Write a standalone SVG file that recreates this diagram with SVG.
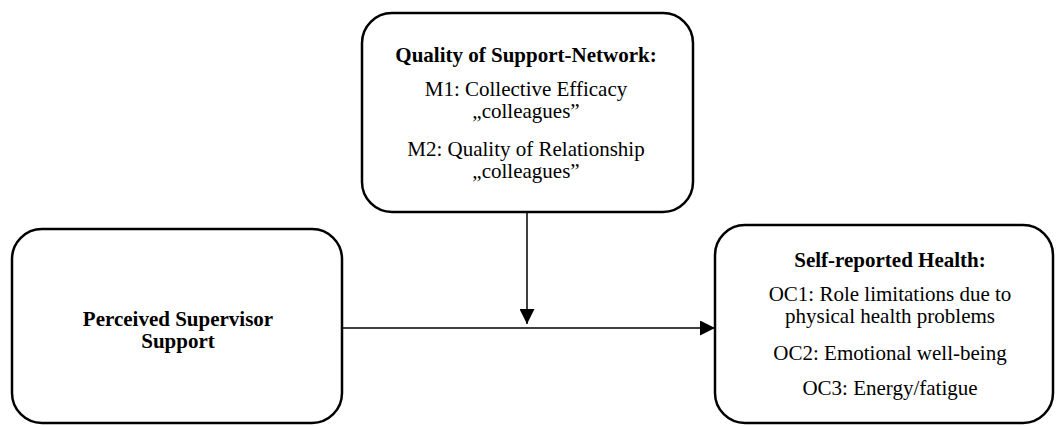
<svg xmlns="http://www.w3.org/2000/svg" width="1057" height="426" viewBox="0 0 1057 426">
  <defs>
    <marker id="arrow" viewBox="0 0 10 10" refX="10" refY="5" markerWidth="16" markerHeight="15" markerUnits="userSpaceOnUse" orient="auto">
      <path d="M0,0 L10,5 L0,10 Z" fill="#000"/>
    </marker>
    <style>
      .box { fill: #fff; stroke: #000; stroke-width: 2.5; }
      .edge { stroke: #000; stroke-width: 1.5; fill: none; marker-end: url(#arrow); }
      .t { font-family: "Liberation Serif", "Times New Roman", serif; font-size: 21px; fill: #000; text-anchor: middle; }
      .b { font-weight: bold; }
    </style>
  </defs>
  <rect width="1057" height="426" fill="#fff"/>

  <g id="connectors">
    <line class="edge" x1="527" y1="212" x2="527" y2="324"/>
    <line class="edge" x1="342" y1="328" x2="715" y2="328"/>
  </g>

  <g id="moderator">
    <rect class="box" x="362" y="13" width="331" height="199" rx="30"/>
    <text class="t b" x="526" y="62">Quality of Support-Network:</text>
    <text class="t" x="526" y="96">M1: Collective Efficacy</text>
    <text class="t" x="526" y="118">„colleagues”</text>
    <text class="t" x="526" y="156">M2: Quality of Relationship</text>
    <text class="t" x="526" y="178">„colleagues”</text>
  </g>

  <g id="predictor">
    <rect class="box" x="12" y="229" width="330" height="194" rx="30"/>
    <text class="t b" x="178" y="326">Perceived Supervisor</text>
    <text class="t b" x="178" y="348">Support</text>
  </g>

  <g id="outcome">
    <rect class="box" x="715" y="225" width="338" height="198" rx="30"/>
    <text class="t b" x="890" y="267">Self-reported Health:</text>
    <text class="t" x="890" y="301">OC1: Role limitations due to</text>
    <text class="t" x="890" y="323">physical health problems</text>
    <text class="t" x="890" y="360">OC2: Emotional well-being</text>
    <text class="t" x="890" y="395">OC3: Energy/fatigue</text>
  </g>
</svg>
